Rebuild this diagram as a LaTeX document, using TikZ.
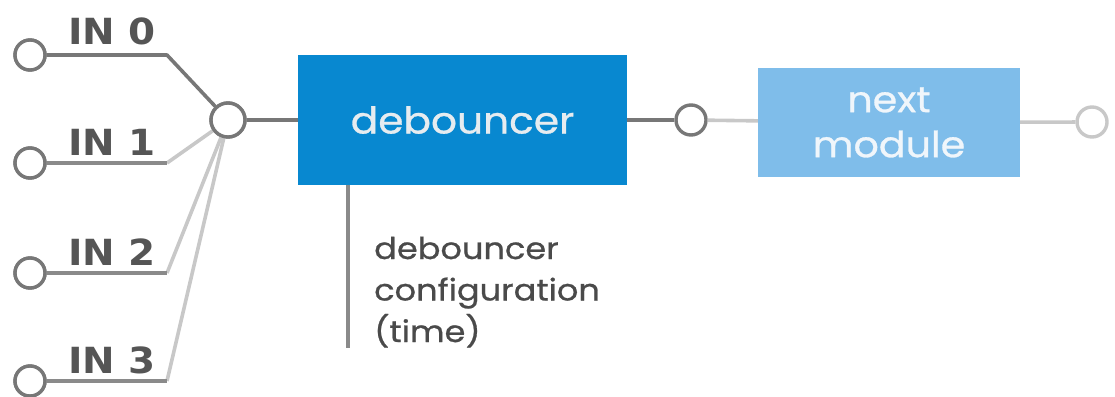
\documentclass[tikz,border=0pt]{standalone}
\usepackage{fontspec}
\setmainfont{Poppins}
\newfontfamily\inlab[FakeStretch=1.08]{DejaVu Sans}
\newfontfamily\popw[FakeStretch=1.1,FakeBold=0.8]{Poppins}
\newfontfamily\popc[FakeStretch=1.12,FakeBold=0.8]{Poppins}
\definecolor{dgrey}{HTML}{777777}
\definecolor{mgrey}{HTML}{8A8A8A}
\definecolor{lgrey}{HTML}{C8C8C8}
\definecolor{txtgrey}{HTML}{4A4A4A}
\definecolor{labgrey}{HTML}{555555}
\definecolor{debblue}{HTML}{0888D0}
\definecolor{nextblue}{HTML}{7FBDEA}
\definecolor{debtxt}{HTML}{E6ECF0}
\definecolor{nexttxt}{HTML}{F0F6FB}
\tikzset{
  port/.style={circle, draw=dgrey, line width=3.4pt, fill=white, minimum size=30pt, inner sep=0pt},
  lport/.style={port, draw=lgrey},
  hubport/.style={port, minimum size=34pt},
  dline/.style={draw=dgrey, line width=3.6pt},
  mline/.style={draw=mgrey, line width=3.6pt},
  lline/.style={draw=lgrey, line width=3.6pt},
  vline/.style={draw=mgrey, line width=3.6pt},
  inlabel/.style={anchor=base west, inner sep=0pt, text=labgrey, font=\inlab\bfseries\fontsize{36}{40}\selectfont},
  debbox/.style={rectangle, fill=debblue, minimum width=329pt, minimum height=130pt, inner sep=0pt, text=debtxt, font=\popw\fontsize{37}{45}\selectfont},
  nextbox/.style={rectangle, fill=nextblue, minimum width=262pt, minimum height=109pt, inner sep=0pt, align=center, text=nexttxt, font=\popw\fontsize{36}{45}\selectfont},
  cfgtext/.style={anchor=base west, inner sep=0pt, align=left, text=txtgrey, font=\popc\fontsize{30}{41.5}\selectfont}
}
\begin{document}
\begin{tikzpicture}[x=1pt,y=-1pt]
\useasboundingbox (0,0) rectangle (1115,396);
% inputs
\node[port] (i0) at (30,55) {};
\node[port] (i1) at (30,163) {};
\node[port] (i2) at (30,273) {};
\node[port] (i3) at (30,381) {};
\coordinate (k0) at (167,55);
\coordinate (k1) at (167,163);
\coordinate (k2) at (167,273);
\coordinate (k3) at (167,381);
\node[hubport] (hub) at (228,120) {};
% light diagonals first
\draw[lline] (k3) -- (hub);
\draw[lline] (k2) -- (hub);
\draw[lline] (k1) -- (hub);
\draw[mline] (i1) -- (k1);
\draw[mline] (i2) -- (k2);
\draw[mline] (i3) -- (k3);
\draw[dline, line join=round] (i0) -- (k0) -- (hub);
\node[port] at (i0) {};
\node[port] at (i1) {};
\node[port] at (i2) {};
\node[port] at (i3) {};
\node[hubport] at (hub) {};
% labels
\node[inlabel] (l0) at (68,45) {IN 0};
\node[inlabel] (l1) at (68,155) {IN 1};
\node[inlabel] (l2) at (68,265) {IN 2};
\node[inlabel] (l3) at (68,373) {IN 3};
% debouncer
\node[debbox] (deb) at (462.5,120) {debouncer};
\draw[dline] (hub) -- (deb);
\coordinate (cfgend) at (348,348);
\draw[vline] (deb.south -| cfgend) -- (cfgend);
\node[cfgtext] (cfg) at (374,342) {debouncer\\configuration\\(time)};
% output
\node[port] (c1) at (691,120) {};
\node[nextbox] (next) at (889,122.5) {next\\module};
\node[lport] (c2) at (1092,122) {};
\draw[dline] (deb) -- (c1);
\draw[lline] (c1) -- (next);
\draw[lline] (next) -- (c2);
\end{tikzpicture}
\end{document}
